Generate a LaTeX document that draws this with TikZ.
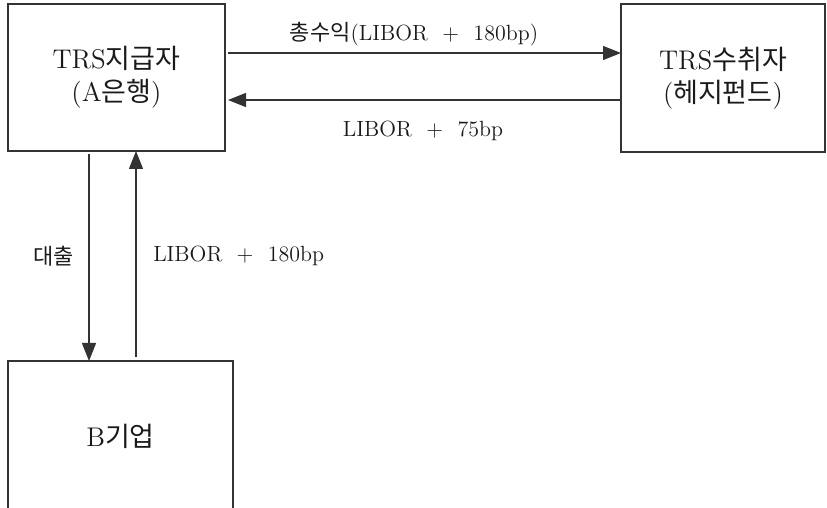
\documentclass[tikz,border=0pt]{standalone}
\usepackage{fontspec}
\newfontfamily\kr{Noto Sans CJK KR}
\usetikzlibrary{arrows.meta,calc}
\definecolor{trsink}{HTML}{1A1A1A}
\definecolor{trsline}{HTML}{333333}

\begin{document}
\begin{tikzpicture}[
  x=0.5pt, y=0.5pt,
  party/.style={draw=trsline, line width=0.6pt, inner sep=0pt, outer sep=0pt,
    align=center, text=trsink, font=\fontsize{13.5}{16.5}\selectfont},
  flow/.style={draw=trsline, line width=0.6pt, -{Triangle[length=9pt,width=7pt]}},
  lbl/.style={font=\fontsize{11}{13}\selectfont, text=trsink},
]
\useasboundingbox (0,0) rectangle (827,508);
\clip (0,0) rectangle (827,508);

% ===== parties =====
\node[party, minimum width=108.5pt, minimum height=73.5pt] (payer) at (116.5,430.5)
  {TRS{\kr 지급자}\\(A{\kr 은행})};
\node[party, minimum width=102pt, minimum height=74pt] (recv) at (723,430)
  {TRS{\kr 수취자}\\({\kr 헤지펀드})};
\node[party, minimum width=112.5pt, minimum height=75.5pt] (corp) at (120.5,71.5)
  {B{\kr 기업}};

% ===== swap legs =====
\draw[flow, shorten <=1.5pt] ([yshift=12.25pt]payer.east) -- ([yshift=12.25pt]payer.east -| recv.west)
  node[midway, above, lbl, xshift=-4.5pt] {{\kr 총수익}(LIBOR~~+~~180bp)};
\draw[flow, shorten <=0.5pt, shorten >=1.5pt] ([yshift=-11pt]recv.west) -- ([yshift=-11pt]recv.west -| payer.east)
  node[midway, below=7pt, lbl] {LIBOR~~+~~75bp};

% ===== loan legs =====
\draw[flow, shorten <=1.5pt] ([xshift=-13.75pt]payer.south) -- ([xshift=-13.75pt]payer.south |- corp.north)
  node[midway, left=4pt, lbl] {{\kr 대출}};
\draw[flow, shorten <=2pt] ([xshift=9.75pt]payer.south |- corp.north) -- ([xshift=9.75pt]payer.south)
  node[midway, right=5pt, lbl] {LIBOR~~+~~180bp};

\end{tikzpicture}
\end{document}
